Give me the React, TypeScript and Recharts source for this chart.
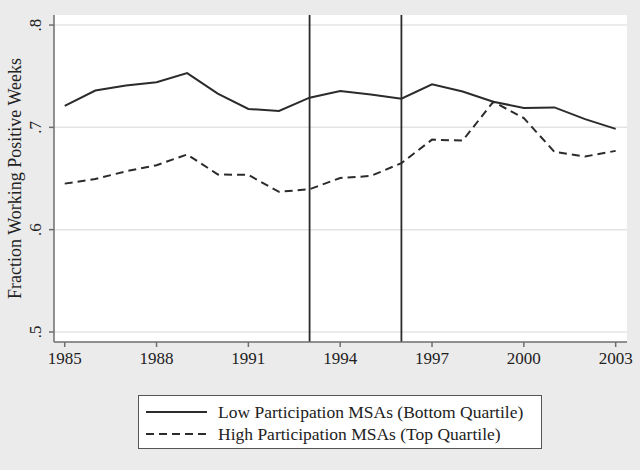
import React from 'react';
import { LineChart, Line, XAxis, YAxis, CartesianGrid, ReferenceLine } from 'recharts';

const years = [1985, 1986, 1987, 1988, 1989, 1990, 1991, 1992, 1993, 1994, 1995, 1996, 1997, 1998, 1999, 2000, 2001, 2002, 2003];
const lowParticipation = [0.721, 0.736, 0.741, 0.744, 0.753, 0.733, 0.718, 0.716, 0.729, 0.7355, 0.732, 0.728, 0.742, 0.735, 0.725, 0.719, 0.7195, 0.708, 0.6985];
const highParticipation = [0.645, 0.6495, 0.657, 0.663, 0.6735, 0.654, 0.6535, 0.637, 0.6395, 0.6505, 0.6525, 0.665, 0.688, 0.687, 0.725, 0.709, 0.676, 0.6715, 0.677];
const xTicks = [1985, 1988, 1991, 1994, 1997, 2000, 2003];
const yTicks = [0.5, 0.6, 0.7, 0.8];
const policyYears = [1993, 1996];
const seriesNames = ['Low Participation MSAs (Bottom Quartile)', 'High Participation MSAs (Top Quartile)'];
const yLabel = 'Fraction Working Positive Weeks';

const data = years.map((y, i) => ({ year: y, low: lowParticipation[i], high: highParticipation[i] }));

const FONT = "'Liberation Serif', 'Times New Roman', serif";
const AXIS = '#6e6e6e';
const INK = '#2b2b2b';

const YTick = (props: any) => {
  const { y, payload } = props;
  const label = Number(payload.value).toFixed(1).replace(/^0/, '');
  return (
    <text x={41} y={y} transform={`rotate(-90, 41, ${y})`} textAnchor="middle" fontSize={17} fontFamily={FONT} fill="#222">
      {label}
    </text>
  );
};

export default function App() {
  return (
    <div style={{ position: 'absolute', left: 0, top: 0, width: 640, height: 470, background: '#ebebeb', overflow: 'hidden' }}>
      <LineChart width={640} height={470} data={data} margin={{ top: 15, right: 13, bottom: 98, left: 0 }}>
        <CartesianGrid vertical={false} fill="#ffffff" stroke="#e4e4e4" strokeWidth={1.5} horizontalValues={yTicks} />
        <XAxis
          dataKey="year"
          type="number"
          domain={[1984.65, 2003.37]}
          ticks={xTicks}
          allowDataOverflow
          height={30}
          stroke={AXIS}
          strokeWidth={1.5}
          tickSize={5}
          tickMargin={5}
          tick={{ fontSize: 17, fontFamily: FONT, fill: '#222' }}
        />
        <YAxis
          type="number"
          domain={[0.4902, 0.8098]}
          ticks={yTicks}
          allowDataOverflow
          width={54}
          stroke={AXIS}
          strokeWidth={1.5}
          tickSize={5}
          tick={<YTick />}
          label={{ value: yLabel, angle: -90, position: 'insideLeft', dx: 10, style: { fontSize: 18, fontFamily: FONT, fill: '#222', textAnchor: 'middle' } }}
        />
        {policyYears.map((py) => (
          <ReferenceLine key={py} x={py} stroke={INK} strokeWidth={1.8} />
        ))}
        <Line type="linear" dataKey="low" stroke={INK} strokeWidth={2} dot={false} isAnimationActive={false} />
        <Line type="linear" dataKey="high" stroke={INK} strokeWidth={2} strokeDasharray="8 5" dot={false} isAnimationActive={false} />
      </LineChart>
      <div
        style={{
          position: 'absolute',
          left: 138,
          top: 395,
          width: 402,
          height: 52,
          border: '1.5px solid #555',
          background: '#ffffff',
          fontFamily: FONT,
          fontSize: 17.5,
          color: '#222',
        }}
      >
        {seriesNames.map((name, i) => (
          <div key={name} style={{ position: 'absolute', left: 7, top: i === 0 ? 5 : 27, height: 22, display: 'flex', alignItems: 'center', whiteSpace: 'nowrap' }}>
            <svg width={62} height={6} style={{ marginRight: 10 }}>
              <line x1={0} y1={3} x2={61} y2={3} stroke={INK} strokeWidth={2} strokeDasharray={i === 0 ? undefined : '8 5'} />
            </svg>
            <span>{name}</span>
          </div>
        ))}
      </div>
    </div>
  );
}
